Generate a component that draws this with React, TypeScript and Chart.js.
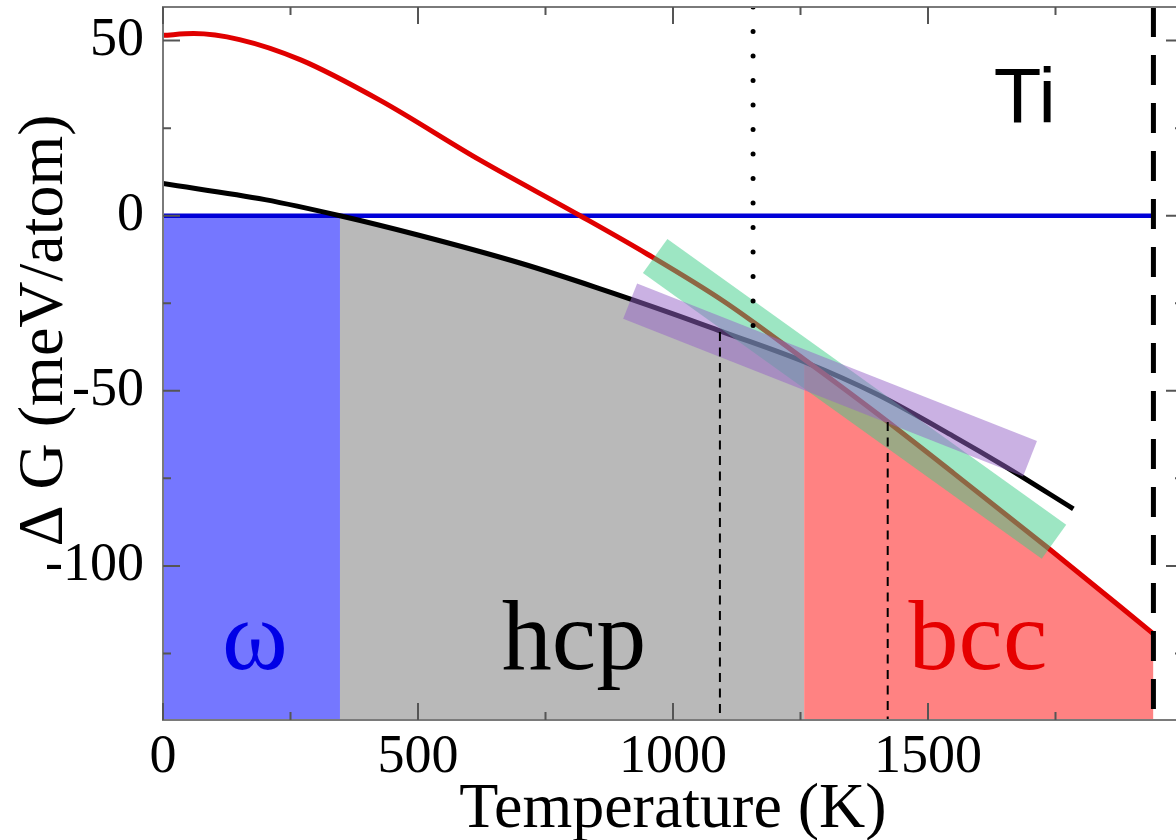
import React, { useEffect, useRef } from 'react';
import { Chart, registerables } from 'chart.js';

Chart.register(...registerables);

// ---------------- data ----------------
const temperatureTickLabels = [0, 500, 1000, 1500];
const xMajorTicks = [0, 500, 1000, 1500, 2000];
const xMinorTicks = [250, 750, 1250, 1750];
const energyTickLabels = [-100, -50, 0, 50];
const yMinorTicks = [-125, -75, -25, 25];

// omega phase (reference, ΔG = 0)
const omegaT = [0, 1942];
const omegaG = [0, 0];

// hcp phase
const hcpT = [0, 200, 347, 500, 700, 850, 1000, 1100, 1257, 1400, 1550, 1650, 1785];
const hcpG = [9.2, 4.6, 0, -5.5, -13.5, -20.5, -28, -33.3, -41.7, -51, -63, -71.5, -83.7];

// bcc phase
const bccT = [0, 60, 150, 270, 425, 620, 818, 950, 1100, 1257, 1400, 1550, 1733, 1942];
const bccG = [51.5, 52, 50.3, 44.5, 33, 16, 0, -11, -24.5, -41, -56.5, -73.5, -94.6, -119.4];

// linear fits (thick translucent bands)
const greenFitT = [965, 1747];
const greenFitG = [-11.5, -93.1];
const purpleFitT = [916, 1700];
const purpleFitG = [-24.4, -69.4];

// phase boundaries / markers
const omegaHcpT = 347;
const hcpBccT = 1257;
const meltT = 1942;
const hcpMarkT = 1092;
const hcpMarkG = -33.2;
const bccMarkT = 1421;
const bccMarkG = -58.9;
const dottedT = 1157;
const dottedEndG = -31.8;

const X_MIN = 0;
const X_MAX = 2000;
const Y_MIN = -144;
const Y_MAX = 59.6;

const annotations = [
  { text: 'ω', t: 180, g: -129.4, color: '#0000e6', font: '100px "Liberation Serif"' },
  { text: 'hcp', t: 806, g: -129.4, color: '#000000', font: '100px "Liberation Serif"' },
  { text: 'bcc', t: 1598, g: -129.4, color: '#e60000', font: '100px "Liberation Serif"' },
  { text: 'Ti', t: 1690, g: 26.6, color: '#000000', font: '78px "Liberation Sans"' },
];

const pts = (ts: number[], gs: number[]) => ts.map((t, i) => ({ x: t, y: gs[i] }));

const framePlugin = {
  id: 'frameTicks',
  afterDatasetsDraw(chart: any) {
    const { ctx, chartArea } = chart;
    const xs = chart.scales.x;
    const ys = chart.scales.y;
    const { left, right, top, bottom } = chartArea;
    ctx.save();
    // frame
    ctx.strokeStyle = '#7a7a7a';
    ctx.lineWidth = 2;
    ctx.strokeRect(left, top, right - left, bottom - top);
    // ticks (inward)
    ctx.strokeStyle = '#555555';
    ctx.lineWidth = 2;
    const drawX = (vals: number[], len: number) => {
      vals.forEach((v) => {
        const px = xs.getPixelForValue(v);
        ctx.beginPath();
        ctx.moveTo(px, bottom);
        ctx.lineTo(px, bottom - len);
        ctx.moveTo(px, top);
        ctx.lineTo(px, top + len);
        ctx.stroke();
      });
    };
    const drawY = (vals: number[], len: number) => {
      vals.forEach((v) => {
        const py = ys.getPixelForValue(v);
        ctx.beginPath();
        ctx.moveTo(left, py);
        ctx.lineTo(left + len, py);
        ctx.moveTo(right, py);
        ctx.lineTo(right - len, py);
        ctx.stroke();
      });
    };
    drawX(xMajorTicks, 17);
    drawX(xMinorTicks, 8);
    drawY(energyTickLabels, 17);
    drawY(yMinorTicks, 8);

    // annotations
    annotations.forEach((a) => {
      ctx.font = a.font;
      ctx.fillStyle = a.color;
      ctx.textAlign = 'center';
      ctx.textBaseline = 'alphabetic';
      ctx.fillText(a.text, xs.getPixelForValue(a.t), ys.getPixelForValue(a.g));
    });

    // y axis title
    ctx.save();
    ctx.translate(62, 330.5);
    ctx.rotate(-Math.PI / 2);
    ctx.font = '64px "Liberation Serif"';
    ctx.fillStyle = '#000';
    ctx.textAlign = 'center';
    ctx.textBaseline = 'alphabetic';
    ctx.fillText('Δ G (meV/atom)', 0, 0);
    ctx.restore();
    ctx.restore();
  },
};

export default function App() {
  const ref = useRef<HTMLCanvasElement | null>(null);

  useEffect(() => {
    if (!ref.current) return;
    const omegaRegion = [{ x: 0, y: omegaG[0] }, { x: omegaHcpT, y: omegaG[0] }];
    const hcpRegion = pts(hcpT, hcpG).filter((p) => p.x >= omegaHcpT && p.x <= hcpBccT);
    const bccRegion = pts(bccT, bccG).filter((p) => p.x >= hcpBccT && p.x <= meltT);

    const chart = new Chart(ref.current, {
      type: 'line',
      data: {
        datasets: [
          // fills
          { data: omegaRegion, borderWidth: 0, fill: 'start', backgroundColor: '#7577ff', order: 20 },
          { data: hcpRegion, borderWidth: 0, fill: 'start', backgroundColor: '#b9b9b9', cubicInterpolationMode: 'monotone', order: 20 },
          { data: bccRegion, borderWidth: 0, fill: 'start', backgroundColor: '#ff8282', cubicInterpolationMode: 'monotone', order: 20 },
          // curves
          { data: pts(omegaT, omegaG), borderColor: '#0000d8', borderWidth: 4.5, fill: false, order: 10 },
          { data: pts(hcpT, hcpG), borderColor: '#000000', borderWidth: 5, fill: false, cubicInterpolationMode: 'monotone', order: 9 },
          { data: pts(bccT, bccG), borderColor: '#e00000', borderWidth: 5, fill: false, cubicInterpolationMode: 'monotone', order: 8 },
          // fit bands
          { data: pts(greenFitT, greenFitG), borderColor: 'rgba(60,205,135,0.5)', borderWidth: 42, borderCapStyle: 'butt', fill: false, order: 5 },
          { data: pts(purpleFitT, purpleFitG), borderColor: 'rgba(150,100,200,0.5)', borderWidth: 38, borderCapStyle: 'butt', fill: false, order: 4 },
          // markers
          { data: [{ x: hcpMarkT, y: hcpMarkG }, { x: hcpMarkT, y: Y_MIN }], borderColor: '#000', borderWidth: 2, borderDash: [9, 6.5], fill: false, order: 2 },
          { data: [{ x: bccMarkT, y: bccMarkG }, { x: bccMarkT, y: Y_MIN }], borderColor: '#000', borderWidth: 2, borderDash: [9, 6.5], fill: false, order: 2 },
          { data: [{ x: dottedT, y: Y_MAX }, { x: dottedT, y: dottedEndG }], borderColor: '#000', borderWidth: 5, borderDash: [0, 24.5], borderCapStyle: 'round', fill: false, order: 2 },
          { data: [{ x: meltT, y: Y_MAX }, { x: meltT, y: Y_MIN }], borderColor: '#000', borderWidth: 5, borderDash: [30, 18], borderCapStyle: 'butt', fill: false, order: 1 },
        ] as any,
      },
      options: {
        responsive: false,
        animation: false,
        devicePixelRatio: 1,
        layout: { padding: { top: 7, right: 3, left: 0, bottom: 0 } },
        elements: { point: { radius: 0 }, line: { tension: 0 } },
        plugins: { legend: { display: false }, tooltip: { enabled: false } },
        scales: {
          x: {
            type: 'linear',
            min: X_MIN,
            max: X_MAX,
            grid: { display: false },
            border: { display: false },
            afterBuildTicks: (s: any) => {
              s.ticks = temperatureTickLabels.map((v) => ({ value: v }));
            },
            afterFit: (s: any) => {
              s.height = 120;
              s.paddingLeft = 0;
              s.paddingRight = 0;
            },
            ticks: {
              font: { family: 'Liberation Serif', size: 54, lineHeight: 1 },
              color: '#000',
              padding: 3,
              maxRotation: 0,
              autoSkip: false,
              callback: (v: any) => String(v),
            },
            title: {
              display: true,
              text: 'Temperature (K)',
              font: { family: 'Liberation Serif', size: 64, lineHeight: 1 },
              color: '#000',
              padding: { top: 0, bottom: -2 },
            },
          },
          y: {
            type: 'linear',
            min: Y_MIN,
            max: Y_MAX,
            grid: { display: false },
            border: { display: false },
            afterBuildTicks: (s: any) => {
              s.ticks = energyTickLabels.map((v) => ({ value: v }));
            },
            afterFit: (s: any) => {
              s.width = 163;
              s.paddingTop = 0;
              s.paddingBottom = 0;
            },
            ticks: {
              font: { family: 'Liberation Serif', size: 54, lineHeight: 1 },
              color: '#000',
              padding: 11,
              autoSkip: false,
              callback: (v: any) => String(v),
            },
          },
        },
      } as any,
      plugins: [framePlugin],
    });
    return () => chart.destroy();
  }, []);

  return (
    <div style={{ position: 'absolute', left: 0, top: 0, width: 1176, height: 840, overflow: 'hidden', background: '#fff' }}>
      <canvas ref={ref} width={1186} height={840} style={{ display: 'block' }} />
    </div>
  );
}
